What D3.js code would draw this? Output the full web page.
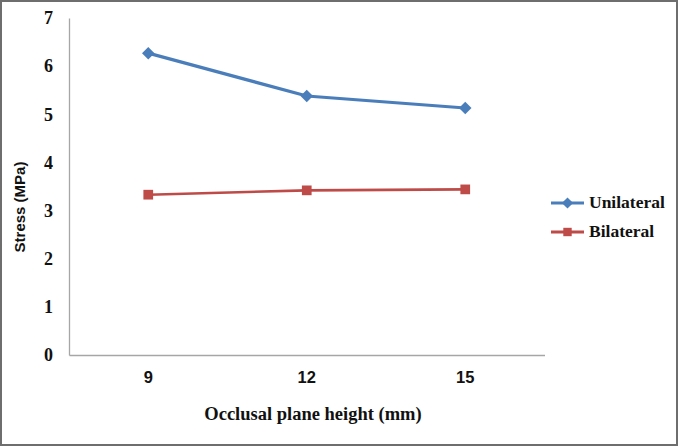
<!DOCTYPE html>
<html><head><meta charset="utf-8">
<script src="https://cdn.jsdelivr.net/npm/d3@7"></script>
<style>body{margin:0;background:#fff}svg{display:block}</style>
</head><body>
<svg id="c" width="678" height="446"></svg>
<script>
const categories = ["9", "12", "15"];
const unilateral = [6.27, 5.38, 5.13];
const bilateral = [3.33, 3.42, 3.44];
const yTicks = [0, 1, 2, 3, 4, 5, 6, 7];
const seriesNames = ["Unilateral", "Bilateral"];

(function(){
const svg = d3.select("#c");
svg.append("rect").attr("x",1).attr("y",1).attr("width",676).attr("height",444)
  .attr("fill","#fff").attr("stroke","#6e6e6e").attr("stroke-width",2);

const mL = 69, mR = 544.5, mT = 18, mB = 355;
const x = d3.scaleBand().domain(categories).range([mL, mR]);
const y = d3.scaleLinear().domain([0, 7]).range([mB, mT]);

const ya = svg.append("g").attr("transform",`translate(${mL},0)`)
  .call(d3.axisLeft(y).tickValues(yTicks).tickSize(0).tickPadding(16).tickFormat(d3.format("d")));
ya.select(".domain").attr("stroke","#a6a6a6").attr("stroke-width",1.3);
ya.selectAll("text").attr("font-family","Liberation Serif").attr("font-weight","bold")
  .attr("font-size",18).attr("fill","#111");

const xa = svg.append("g").attr("transform",`translate(0,${mB})`)
  .call(d3.axisBottom(x).tickSize(0).tickPadding(16));
xa.select(".domain").attr("stroke","#a6a6a6").attr("stroke-width",1.3);
xa.selectAll("text").attr("font-family","Liberation Sans").attr("font-weight","bold")
  .attr("font-size",16.5).attr("fill","#111");

const cx = d => x(d) + x.bandwidth()/2;
const colors = ["#4a7ebb", "#be4b48"];
const data = [unilateral, bilateral];
const line = d3.line().x((d,i)=>cx(categories[i])).y(d=>y(d));

data.forEach((vals, s) => {
  svg.append("path").datum(vals).attr("d", line).attr("fill","none")
    .attr("stroke", colors[s]).attr("stroke-width", s===0?3.2:2.6);
  const sym = s===0 ? d3.symbol(d3.symbolSquare2, 100) : d3.symbol(d3.symbolSquare2, 120);
  svg.selectAll(null).data(vals).enter().append("path")
    .attr("d", sym)
    .attr("transform",(d,i)=>`translate(${cx(categories[i])},${y(d)})${s===0?" rotate(45)":""}`)
    .attr("fill", colors[s]);
});

const legY = [203, 232];
seriesNames.forEach((n, s) => {
  const g = svg.append("g");
  g.append("line").attr("x1",551).attr("x2",584).attr("y1",legY[s]).attr("y2",legY[s])
    .attr("stroke",colors[s]).attr("stroke-width",3);
  const sym = s===0 ? d3.symbol(d3.symbolSquare2, 80) : d3.symbol(d3.symbolSquare2, 90);
  g.append("path").attr("d",sym).attr("transform",`translate(567.5,${legY[s]})${s===0?" rotate(45)":""}`)
    .attr("fill",colors[s]);
  g.append("text").attr("x",589).attr("y",legY[s]+5).text(n)
    .attr("font-family","Liberation Serif").attr("font-weight","bold").attr("font-size",17.5).attr("fill","#111");
});

svg.append("text").attr("x",313).attr("y",420).attr("text-anchor","middle")
  .text("Occlusal plane height (mm)")
  .attr("font-family","Liberation Serif").attr("font-weight","bold").attr("font-size",18.5).attr("fill","#111");
svg.append("text").attr("transform","translate(25,207) rotate(-90)").attr("text-anchor","middle")
  .text("Stress (MPa)")
  .attr("font-family","Liberation Sans").attr("font-weight","bold").attr("font-size",15).attr("fill","#111");
})();
</script>
</body></html>
